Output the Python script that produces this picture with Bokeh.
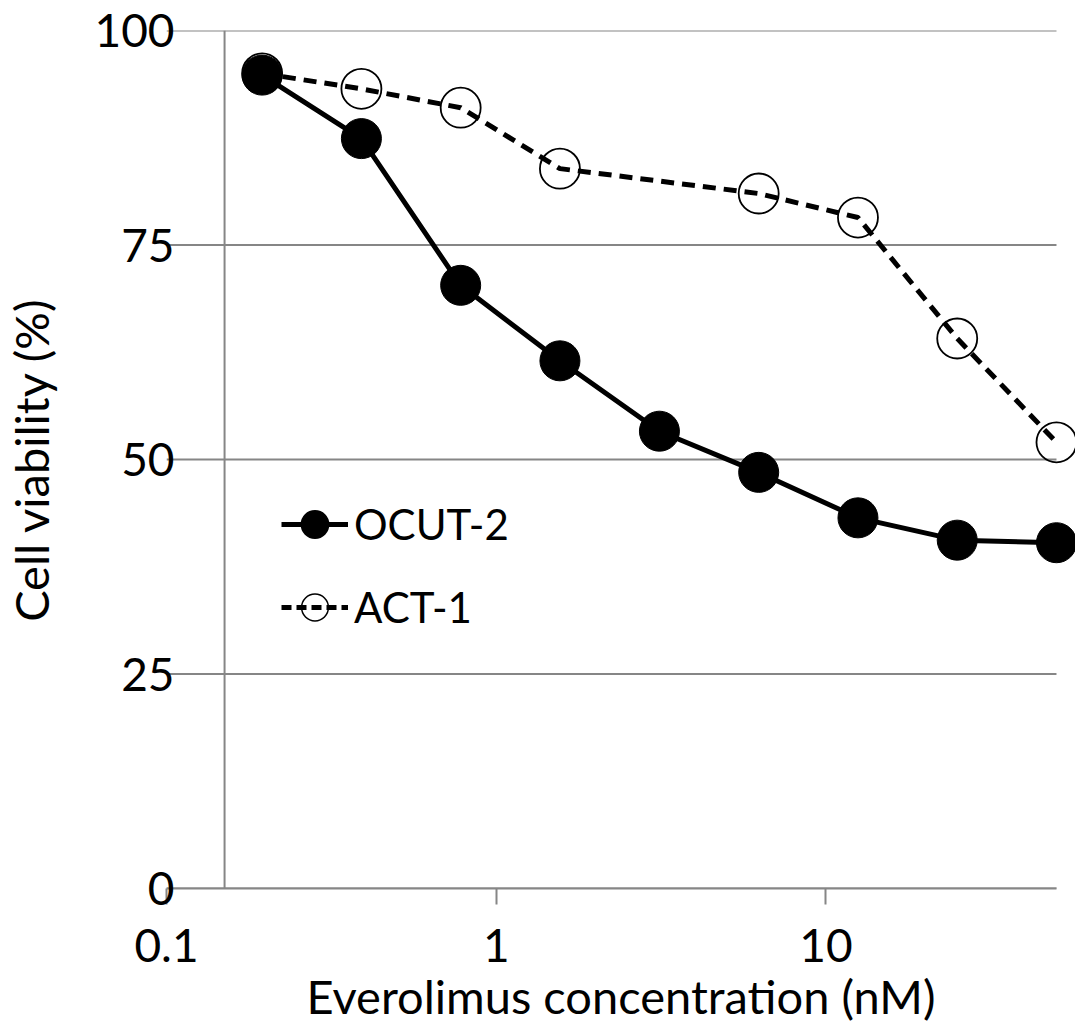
from bokeh.plotting import figure
from bokeh.models import Span, Legend, LegendItem, FixedTicker, ColumnDataSource
from bokeh.embed import file_html
from bokeh.resources import INLINE

# ---- data ----
ocut2_conc = [0.195, 0.39, 0.78, 1.56, 3.125, 6.25, 12.5, 25, 50]
ocut2_viab = [94.8, 87.4, 70.3, 61.5, 53.3, 48.5, 43.2, 40.6, 40.3]
act1_conc = [0.195, 0.39, 0.78, 1.56, 6.25, 12.5, 25, 50]
act1_viab = [95.0, 93.2, 91.0, 83.9, 81.0, 78.2, 64.1, 52.0]
x_ticks = [0.1, 1, 10]
x_tick_labels = ["0.1", "1", "10"]
y_ticks = [0, 25, 50, 75, 100]
x_axis_start, x_axis_end = 0.1, 50     # extent of the axis / gridlines
y_cross = 0.15
# off-range point used only so the legend can draw its glyphs
legend_dummy_x = [1e-6]
legend_dummy_y = [-1000]

FONT = "Lato"
GRAY = "#868686"

# frame extends a little past 50 so the last markers are not clipped
p = figure(width=1075, height=1032, x_axis_type="log",
           x_range=(x_axis_start, 57.1), y_range=(0, 100),
           output_backend="svg", toolbar_location=None,
           min_border_left=158, min_border_right=0,
           min_border_top=30, min_border_bottom=144)
p.outline_line_color = None
p.background_fill_color = "white"

# grid (limited to the axis extent)
p.xgrid.visible = False
p.ygrid.visible = False
n = len(y_ticks)
p.segment(x0=[x_axis_start] * n, y0=y_ticks, x1=[x_axis_end] * n, y1=y_ticks,
          line_color=GRAY, line_width=2)

# x axis
p.xaxis.bounds = (x_axis_start, x_axis_end)
p.xaxis.ticker = FixedTicker(ticks=x_ticks)
p.xaxis.major_label_overrides = {t: l for t, l in zip(x_ticks, x_tick_labels)}
p.xaxis.minor_tick_line_color = None
p.xaxis.major_tick_in = 0
p.xaxis.major_tick_out = 16
p.xaxis.major_tick_line_color = GRAY
p.xaxis.major_tick_line_width = 2
p.xaxis.axis_line_color = GRAY
p.xaxis.axis_line_width = 2
p.xaxis.major_label_text_font = FONT
p.xaxis.major_label_text_font_size = "46px"
p.xaxis.major_label_text_color = "black"
p.xaxis.major_label_standoff = 24
p.xaxis.axis_label = "Everolimus concentration (nM)"
p.xaxis.axis_label_text_font = FONT
p.xaxis.axis_label_text_font_size = "47px"
p.xaxis.axis_label_text_font_style = "normal"
p.xaxis.axis_label_text_color = "black"
p.xaxis.axis_label_standoff = 3

# y axis
p.yaxis.ticker = FixedTicker(ticks=y_ticks)
p.yaxis.minor_tick_line_color = None
p.yaxis.major_tick_line_color = None
p.yaxis.major_tick_in = 0
p.yaxis.major_tick_out = 0
p.yaxis.axis_line_color = None
p.yaxis.major_label_text_font = FONT
p.yaxis.major_label_text_font_size = "46px"
p.yaxis.major_label_text_color = "black"
p.yaxis.major_label_standoff = -8
p.yaxis.axis_label = "Cell viability (%)"
p.yaxis.axis_label_text_font = FONT
p.yaxis.axis_label_text_font_size = "47px"
p.yaxis.axis_label_text_font_style = "normal"
p.yaxis.axis_label_text_color = "black"
p.yaxis.axis_label_standoff = 32

# y axis line crossing at 0.15
p.add_layout(Span(location=y_cross, dimension="height", line_color=GRAY, line_width=2))

# series
act_line = p.line(act1_conc, act1_viab, line_color="black", line_width=5, line_dash="13 8")
act_pts = p.scatter(act1_conc, act1_viab, marker="circle", size=40,
                    fill_color=None, line_color="black", line_width=1.8)
oc_line = p.line(ocut2_conc, ocut2_viab, line_color="black", line_width=5)
oc_pts = p.scatter(ocut2_conc, ocut2_viab, marker="circle", size=40,
                   fill_color="black", line_color="black")

# legend-only renderers, drawn off-range
src1 = ColumnDataSource(data=dict(x=legend_dummy_x, y=legend_dummy_y))
src2 = ColumnDataSource(data=dict(x=legend_dummy_x, y=legend_dummy_y))
lg_oc_line = p.line("x", "y", source=src1, line_color="black", line_width=5)
lg_oc_pt = p.scatter("x", "y", source=src1, marker="circle", size=30,
                     fill_color="black", line_color="black", line_width=2)
lg_act_line = p.line("x", "y", source=src2, line_color="black", line_width=5, line_dash="10 5")
lg_act_pt = p.scatter("x", "y", source=src2, marker="circle", size=25,
                      fill_color=None, line_color="black", line_width=1.5)

legend = Legend(items=[LegendItem(label="OCUT-2", renderers=[lg_oc_line, lg_oc_pt]),
                       LegendItem(label="ACT-1", renderers=[lg_act_line, lg_act_pt])],
                location=(115, 246), orientation="vertical",
                glyph_width=67, glyph_height=70, spacing=13,
                label_standoff=6, label_text_font=FONT, label_text_font_size="42px",
                label_text_color="black", label_height=40,
                padding=0, margin=0,
                background_fill_color=None, border_line_color=None)
p.add_layout(legend, "center")

open("out.html", "w").write(file_html(p, INLINE))
